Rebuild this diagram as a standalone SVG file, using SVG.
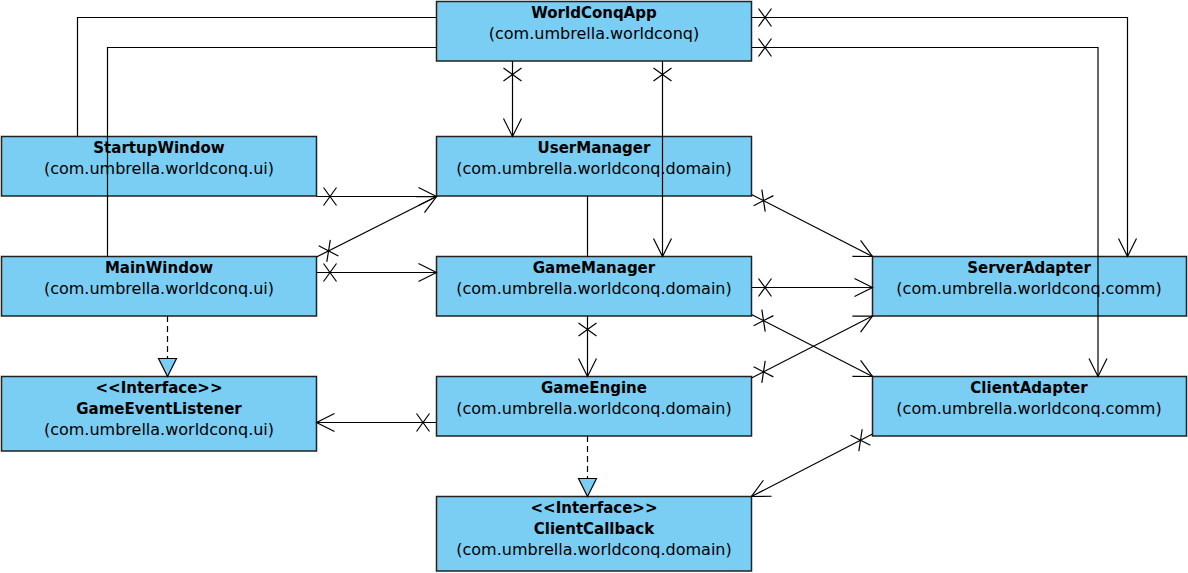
<svg xmlns="http://www.w3.org/2000/svg" width="1188" height="573" viewBox="0 0 1188 573">
<style>
.box{fill:#7ACDF3;stroke:#222;stroke-width:1.5}
.t{font-family:"DejaVu Sans","Liberation Sans",sans-serif;font-size:16px;fill:#000;text-anchor:middle}
.b{font-weight:bold;font-size:15px}
.c{fill:none;stroke:#000;stroke-width:1.2}
.nav{marker-start:url(#x);marker-end:url(#arr)}
.asc{marker-end:url(#arr)}
.real{stroke-dasharray:6,4;marker-end:url(#tri)}
</style>
<defs>
<marker id="arr" markerUnits="userSpaceOnUse" markerWidth="40" markerHeight="40" refX="0" refY="0" orient="auto" viewBox="-20 -20 40 40" overflow="visible">
<path d="M-18,-9 L0,0 L-18,9" fill="none" stroke="#000" stroke-width="1.2"/>
</marker>
<marker id="x" markerUnits="userSpaceOnUse" markerWidth="40" markerHeight="40" refX="0" refY="0" orient="auto" viewBox="-20 -20 40 40" overflow="visible">
<path d="M7,-9 L20,9 M7,9 L20,-9" fill="none" stroke="#000" stroke-width="1.2"/>
</marker>
<marker id="tri" markerUnits="userSpaceOnUse" markerWidth="40" markerHeight="40" refX="0" refY="0" orient="auto" viewBox="-20 -20 40 40" overflow="visible">
<path d="M0,0 L-18,-9 L-18,9 Z" fill="#7ACDF3" stroke="#000" stroke-width="1.2"/>
</marker>
</defs>

<g id="WorldConqApp">
<rect class="box" x="436.5" y="1.5" width="315" height="59.5"/>
<text class="t b" x="594" y="18">WorldConqApp</text>
<text class="t" x="594" y="39">(com.umbrella.worldconq)</text>
</g>
<g id="StartupWindow">
<rect class="box" x="1.5" y="136.5" width="315" height="59.5"/>
<text class="t b" x="159" y="153">StartupWindow</text>
<text class="t" x="159" y="174">(com.umbrella.worldconq.ui)</text>
</g>
<g id="UserManager">
<rect class="box" x="436.5" y="136.5" width="315" height="59.5"/>
<text class="t b" x="594" y="153">UserManager</text>
<text class="t" x="594" y="174">(com.umbrella.worldconq.domain)</text>
</g>
<g id="MainWindow">
<rect class="box" x="1.5" y="256.5" width="315" height="59.5"/>
<text class="t b" x="159" y="273">MainWindow</text>
<text class="t" x="159" y="294">(com.umbrella.worldconq.ui)</text>
</g>
<g id="GameManager">
<rect class="box" x="436.5" y="256.5" width="315" height="59.5"/>
<text class="t b" x="594" y="273">GameManager</text>
<text class="t" x="594" y="294">(com.umbrella.worldconq.domain)</text>
</g>
<g id="ServerAdapter">
<rect class="box" x="872.5" y="256.5" width="314" height="59.5"/>
<text class="t b" x="1029" y="273">ServerAdapter</text>
<text class="t" x="1029" y="294">(com.umbrella.worldconq.comm)</text>
</g>
<g id="GameEventListener">
<rect class="box" x="1.5" y="376.5" width="315" height="74.5"/>
<text class="t b" x="159" y="393">&lt;&lt;Interface&gt;&gt;</text>
<text class="t b" x="159" y="414">GameEventListener</text>
<text class="t" x="159" y="435">(com.umbrella.worldconq.ui)</text>
</g>
<g id="GameEngine">
<rect class="box" x="436.5" y="376.5" width="315" height="59.5"/>
<text class="t b" x="594" y="393">GameEngine</text>
<text class="t" x="594" y="414">(com.umbrella.worldconq.domain)</text>
</g>
<g id="ClientAdapter">
<rect class="box" x="872.5" y="376.5" width="314" height="59.5"/>
<text class="t b" x="1029" y="393">ClientAdapter</text>
<text class="t" x="1029" y="414">(com.umbrella.worldconq.comm)</text>
</g>
<g id="ClientCallback">
<rect class="box" x="436.5" y="496.5" width="315" height="74.5"/>
<text class="t b" x="594" y="513">&lt;&lt;Interface&gt;&gt;</text>
<text class="t b" x="594" y="534">ClientCallback</text>
<text class="t" x="594" y="555">(com.umbrella.worldconq.domain)</text>
</g>

<g id="connectors">
<path class="c" d="M77.5,136.5 V17.5 H436.5"/>
<path class="c" d="M107.5,256.5 V47.5 H436.5"/>
<path class="c nav" d="M751.5,17.5 H1127.5 V256.5"/>
<path class="c nav" d="M751.5,47.5 H1098 V376.5"/>
<path class="c nav" d="M512.5,61 V136.5"/>
<path class="c nav" d="M662.5,61 V256.5"/>
<path class="c nav" d="M316.5,196.5 H436.5"/>
<path class="c nav" d="M316.5,257 L436.5,196.5"/>
<path class="c nav" d="M316.5,272.5 H436.5"/>
<path class="c" d="M587.5,196 V256.5"/>
<path class="c nav" d="M751.5,194.5 L872.5,256.5"/>
<path class="c nav" d="M751.5,287.5 H872.5"/>
<path class="c nav" d="M751.5,314.5 L872.5,376.5"/>
<path class="c nav" d="M751.5,378 L872.5,316"/>
<path class="c nav" d="M587.5,316 V376.5"/>
<path class="c nav" d="M436.5,422.5 H316.5"/>
<path class="c real" d="M587.5,436 V496.5"/>
<path class="c real" d="M167.5,316 V376.5"/>
<path class="c nav" d="M872.5,434 L751.5,496.5"/>
</g>
</svg>
